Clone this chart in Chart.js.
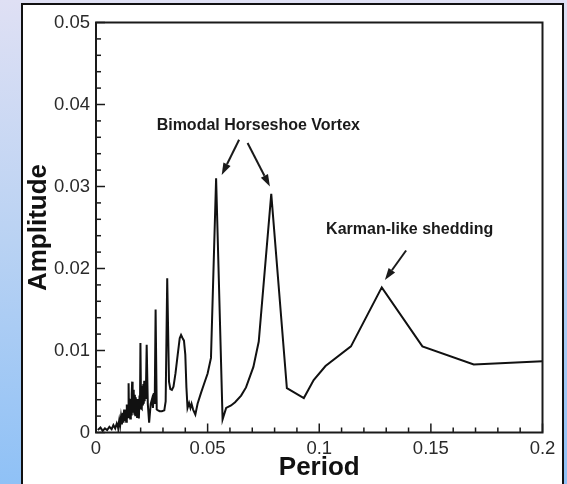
<!DOCTYPE html>
<html>
<head>
<meta charset="utf-8">
<script src="https://cdn.jsdelivr.net/npm/chart.js@4"></script>
<style>
  html, body {
    margin: 0;
    padding: 0;
    width: 567px;
    height: 484px;
    overflow: hidden;
    background: linear-gradient(to bottom, #dfe0f4 0%, #b9d2f3 50%, #8fc1f6 100%);
  }
  #panel {
    position: absolute;
    left: 21px;
    top: 3px;
    width: 539px;
    height: 490px;
    background: #fff;
    border: 2px solid #111;
  }
  #wrap {
    position: absolute;
    left: 0;
    top: 0;
  }
</style>
</head>
<body>
<div id="panel"></div>
<div id="wrap"><canvas id="chart" width="567" height="484"></canvas></div>
<script>
// spectrum
const periods = [
  0.0008, 0.002, 0.003, 0.004, 0.005, 0.006, 0.007, 0.0078, 0.0086, 0.0093,
  0.0099, 0.0104, 0.0108, 0.0112, 0.0116, 0.012, 0.0123, 0.0126, 0.0129, 0.0132,
  0.0135, 0.0138, 0.0141, 0.0144, 0.0146, 0.0148, 0.0151, 0.0153, 0.0156, 0.0158,
  0.016, 0.0162, 0.0164, 0.0166, 0.0168, 0.017, 0.0172, 0.0174, 0.0176, 0.0178,
  0.018, 0.0182, 0.0184, 0.0186, 0.0188, 0.019, 0.0192, 0.0195, 0.0197, 0.0199,
  0.0202, 0.0204, 0.0206, 0.0208, 0.021, 0.0212, 0.0214, 0.0216, 0.0218, 0.022,
  0.0223, 0.0227, 0.0232, 0.0238, 0.0245, 0.0251, 0.0255, 0.0259, 0.0263, 0.0267,
  0.0272, 0.0278, 0.0285, 0.0295, 0.0306, 0.0312, 0.0319, 0.0327, 0.0333, 0.034,
  0.0347, 0.0356, 0.0366, 0.0375, 0.0381, 0.0388, 0.0394, 0.04, 0.0405, 0.041,
  0.0417, 0.0423, 0.0428, 0.0435, 0.0445, 0.0455, 0.047, 0.0485, 0.05, 0.0515,
  0.0538, 0.0567, 0.0583, 0.0605, 0.0623, 0.065, 0.0672, 0.0705, 0.0729, 0.0785,
  0.0855, 0.0931, 0.0975, 0.1028, 0.1142, 0.128, 0.1462, 0.1692, 0.2
]
const amplitudes = [
  0.0003, 0.0006, 0.0002, 0.0005, 0.0003, 0.0007, 0.0004, 0.0009, 0.0005, 0.0011,
  0.0006, 0.0015, 0.0008, 0.0019, 0.001, 0.0024, 0.0012, 0.0028, 0.0014, 0.0025,
  0.0013, 0.0034, 0.0017, 0.0031, 0.006, 0.0019, 0.0041, 0.0017, 0.0038, 0.0022,
  0.0047, 0.0062, 0.0024, 0.0052, 0.0027, 0.0049, 0.0023, 0.0046, 0.0021, 0.0043,
  0.0026, 0.0039, 0.0019, 0.0041, 0.0022, 0.0036, 0.0017, 0.0045, 0.0028, 0.0109,
  0.003, 0.0052, 0.0029, 0.0057, 0.0033, 0.0059, 0.0035, 0.0063, 0.0038, 0.0058,
  0.0041, 0.0107, 0.0035, 0.0012, 0.0035, 0.0041, 0.003, 0.0048, 0.0035, 0.015,
  0.0028, 0.0027, 0.0026, 0.0026, 0.0027, 0.0038, 0.0188, 0.0062, 0.0053, 0.0052,
  0.0056, 0.0072, 0.0095, 0.0115, 0.0119, 0.0115, 0.0112, 0.0095, 0.0055, 0.003,
  0.0036, 0.003, 0.0035, 0.0028, 0.0022, 0.0035, 0.0048, 0.006, 0.0072, 0.0091,
  0.031, 0.0016, 0.003, 0.0033, 0.0037, 0.0045, 0.0055, 0.008, 0.0111, 0.0291,
  0.0054, 0.0042, 0.0064, 0.0081, 0.0105, 0.0177, 0.0105, 0.0083, 0.0087
]

const xTickLabels = ['0', '0.05', '0.1', '0.15', '0.2']
const yTickLabels = ['0', '0.01', '0.02', '0.03', '0.04', '0.05']

// annotation text and arrows, in data units
const notes = [
  { text: 'Bimodal Horseshoe Vortex', x: 0.0727, y: 0.0374 },
  { text: 'Karman-like shedding', x: 0.1405, y: 0.0248 }
]
const arrows = [
  { from: [0.0641, 0.0357], to: [0.0563, 0.0314] },
  { from: [0.0679, 0.0353], to: [0.0779, 0.0300] },
  { from: [0.1389, 0.0222], to: [0.1294, 0.0186] }
]

function makePoints(xs, ys) {
  return xs.map((x, i) => ({ x: x, y: ys[i] }))
}

function drawArrow(ctx, x1, y1, x2, y2) {
  const ang = Math.atan2(y2 - y1, x2 - x1)
  const len = 12
  const half = 4
  const bx = x2 - len * Math.cos(ang)
  const by = y2 - len * Math.sin(ang)
  ctx.beginPath()
  ctx.moveTo(x1, y1)
  ctx.lineTo(bx, by)
  ctx.stroke()
  ctx.beginPath()
  ctx.moveTo(x2, y2)
  ctx.lineTo(bx + half * Math.sin(ang), by - half * Math.cos(ang))
  ctx.lineTo(bx - half * Math.sin(ang), by + half * Math.cos(ang))
  ctx.closePath()
  ctx.fill()
}

const frameAndNotes = {
  id: 'frameAndNotes',
  afterDatasetsDraw(chart) {
    const ctx = chart.ctx
    const area = chart.chartArea
    const xs = chart.scales.x
    const ys = chart.scales.y
    ctx.save()
    ctx.strokeStyle = '#1a1a1a'
    ctx.fillStyle = '#1a1a1a'

    // inward ticks
    ctx.lineWidth = 1.5
    for (let v = 0; v <= 20; v++) {
      const px = xs.getPixelForValue(v * 0.01)
      const len = v % 5 === 0 ? 9 : 5
      ctx.beginPath()
      ctx.moveTo(px, area.bottom)
      ctx.lineTo(px, area.bottom - len)
      ctx.stroke()
    }
    for (let v = 0; v <= 25; v++) {
      const py = ys.getPixelForValue(v * 0.002)
      const len = v % 5 === 0 ? 9 : 5
      ctx.beginPath()
      ctx.moveTo(area.left, py)
      ctx.lineTo(area.left + len, py)
      ctx.stroke()
    }

    // frame
    ctx.lineWidth = 2
    ctx.strokeRect(area.left, area.top, area.right - area.left, area.bottom - area.top)

    // notes
    ctx.font = 'bold 16px "Liberation Sans", Arial, sans-serif'
    ctx.textAlign = 'center'
    ctx.textBaseline = 'middle'
    notes.forEach(n => {
      ctx.fillText(n.text, xs.getPixelForValue(n.x), ys.getPixelForValue(n.y))
    })
    ctx.lineWidth = 2
    arrows.forEach(a => {
      drawArrow(ctx,
        xs.getPixelForValue(a.from[0]), ys.getPixelForValue(a.from[1]),
        xs.getPixelForValue(a.to[0]), ys.getPixelForValue(a.to[1]))
    })
    ctx.restore()
  }
}

const tickFont = { family: '"Liberation Sans", Arial, sans-serif', size: 18.5 }
const titleFont = { family: '"Liberation Sans", Arial, sans-serif', size: 26, weight: 'bold' }

new Chart(document.getElementById('chart'), {
  type: 'scatter',
  data: {
    datasets: [{
      label: 'Amplitude',
      data: makePoints(periods, amplitudes),
      showLine: true,
      borderColor: '#111',
      borderWidth: 2,
      pointRadius: 0,
      tension: 0
    }]
  },
  options: {
    responsive: false,
    animation: false,
    layout: { padding: { top: 22.5, right: 24.5, left: 0, bottom: 0 } },
    plugins: {
      legend: { display: false },
      tooltip: { enabled: false }
    },
    scales: {
      x: {
        type: 'linear',
        min: 0,
        max: 0.2,
        grid: { display: false, drawTicks: false },
        border: { display: false },
        ticks: {
          stepSize: 0.05,
          padding: 5,
          color: '#2a2a2a',
          font: tickFont,
          maxRotation: 0,
          callback: (v, i) => xTickLabels[i]
        },
        title: { display: true, text: 'Period', color: '#111', font: titleFont, padding: { top: 0, bottom: 1 } },
        afterFit: scale => { scale.height = 51.5 }
      },
      y: {
        type: 'linear',
        min: 0,
        max: 0.05,
        grid: { display: false, drawTicks: false },
        border: { display: false },
        ticks: {
          stepSize: 0.01,
          padding: 6,
          color: '#2a2a2a',
          font: tickFont,
          callback: (v, i) => yTickLabels[i]
        },
        title: { display: true, text: 'Amplitude', color: '#111', font: titleFont, padding: { top: 23, bottom: 0 } },
        afterFit: scale => { scale.width = 96 }
      }
    }
  },
  plugins: [frameAndNotes]
})
</script>
</body>
</html>
